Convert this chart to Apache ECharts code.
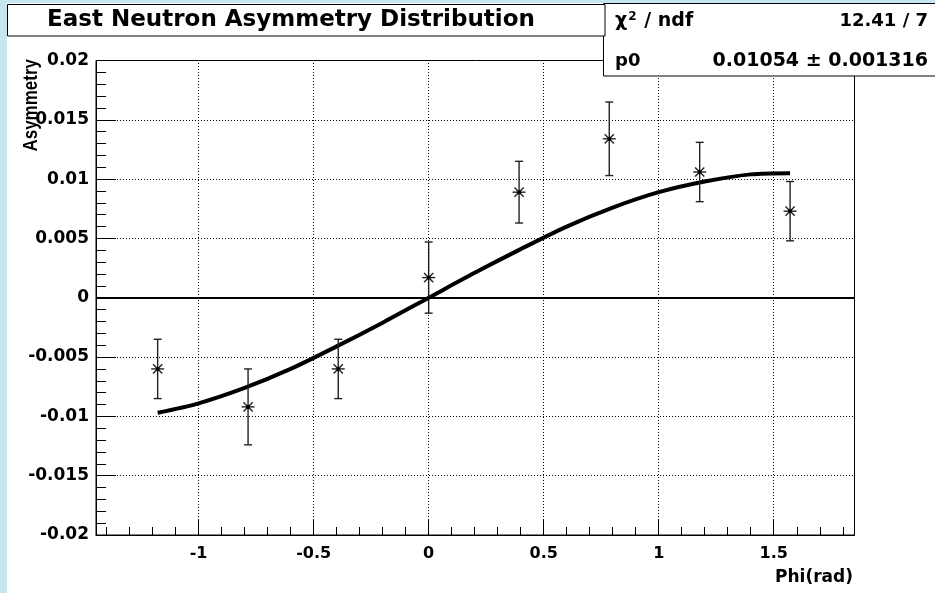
<!DOCTYPE html>
<html>
<head>
<meta charset="utf-8">
<script src="https://cdn.jsdelivr.net/npm/echarts@6/dist/echarts.min.js"></script>
<style>
  html, body { margin: 0; padding: 0; background: #c6e6ee; }
  #pad { position: absolute; left: 7px; top: 3px; width: 928px; height: 590px; background: #ffffff; }
  #chart { position: absolute; left: 0; top: 0; width: 935px; height: 593px; }
</style>
</head>
<body>
<div id="pad"></div>
<div id="chart"></div>
<script>
// Measured asymmetry per phi bin (bin centres at multiples of pi/8)
const phiPoints  = [-1.178, -0.785, -0.393, 0, 0.393, 0.785, 1.178, 1.571];
const asymValues = [-0.0060, -0.0092, -0.0060, 0.0017, 0.0089, 0.0134, 0.0106, 0.0073];
const asymErrors = [0.0025, 0.0032, 0.0025, 0.0030, 0.0026, 0.0031, 0.0025, 0.0025];

// Fitted curve p0*sin(phi), sampled along the drawn range
const fitPhi    = [-1.178, -1.0, -0.8, -0.6, -0.4, -0.2, 0, 0.2, 0.4, 0.6, 0.8, 1.0, 1.2, 1.4, 1.571];
const fitValues = [-0.0097, -0.0089, -0.0076, -0.0060, -0.0041, -0.0021, 0, 0.0021, 0.0041, 0.0060, 0.0076, 0.0089, 0.0098, 0.0104, 0.0105];

// Axis ticks
const xMajorTicks = [-1, -0.5, 0, 0.5, 1, 1.5];
const xMinorTicks = [-1.4, -1.3, -1.2, -1.1, -0.9, -0.8, -0.7, -0.6, -0.4, -0.3, -0.2, -0.1,
                     0.1, 0.2, 0.3, 0.4, 0.6, 0.7, 0.8, 0.9, 1.1, 1.2, 1.3, 1.4, 1.6, 1.7, 1.8];
const xRange = [-1.446, 1.851];
const yRange = [-0.02, 0.02];
const yStep = 0.005;

// Statistics box content
const statsRows = [
  ['{a|\u03c7}{s|2}{a| / ndf}', '12.41 / 7'],
  ['p0', '0.01054 \u00b1 0.001316']
];

const labelFont = 'DejaVu Sans';
const fmt = v => String(+(+v).toFixed(4));

const chart = echarts.init(document.getElementById('chart'), null, { renderer: 'canvas' });

const pointData = phiPoints.map((p, i) => [p, asymValues[i], asymErrors[i]]);
const fitData = fitPhi.map((p, i) => [p, fitValues[i]]);

const option = {
  backgroundColor: 'transparent',
  animation: false,
  grid: {
    left: 96, right: 80.5, top: 60.5, bottom: 58,
    show: true, borderColor: '#000', borderWidth: 1, backgroundColor: 'transparent',
    containLabel: false, outerBoundsMode: 'none'
  },
  xAxis: [
    {
      type: 'value', min: xRange[0], max: xRange[1], position: 'bottom',
      axisLine: { show: true, onZero: false, lineStyle: { color: '#000', width: 1 } },
      axisTick: { show: true, inside: true, length: 15, customValues: xMajorTicks, lineStyle: { color: '#000', width: 1 } },
      axisLabel: {
        show: true, customValues: xMajorTicks, margin: 11, formatter: fmt,
        color: '#000', fontFamily: labelFont, fontWeight: 'bold', fontSize: 16
      },
      splitLine: { show: false }
    },
    {
      type: 'value', min: xRange[0], max: xRange[1], position: 'bottom',
      axisLine: { show: false, onZero: false },
      axisTick: { show: true, inside: true, length: 8, customValues: xMinorTicks, lineStyle: { color: '#000', width: 1 } },
      axisLabel: { show: false },
      splitLine: { show: false }
    }
  ],
  yAxis: {
    type: 'value', min: yRange[0], max: yRange[1], interval: yStep,
    axisLine: { show: true, onZero: false, lineStyle: { color: '#000', width: 1 } },
    axisTick: { show: true, inside: true, length: 20, lineStyle: { color: '#000', width: 1 } },
    minorTick: { show: true, splitNumber: 5, length: 10, lineStyle: { color: '#000', width: 1 } },
    axisLabel: {
      margin: 7, formatter: fmt, color: '#000',
      fontFamily: labelFont, fontWeight: 'bold', fontSize: 17
    },
    splitLine: { show: true, lineStyle: { color: '#000', width: 1, type: [1, 2] } }
  },
  series: [
    {
      // vertical grid lines at the major phi ticks
      type: 'line', data: [], silent: true,
      markLine: {
        silent: true, symbol: 'none', label: { show: false },
        lineStyle: { color: '#000', width: 1, type: [1, 2] },
        data: xMajorTicks.map(v => ({ xAxis: v }))
      }
    },
    {
      // fit curve with the zero baseline
      type: 'line', data: fitData, smooth: 0.3, showSymbol: false, symbol: 'none',
      lineStyle: { color: '#000', width: 4 }, z: 3,
      markLine: {
        silent: true, symbol: 'none', label: { show: false },
        lineStyle: { color: '#000', width: 2, type: 'solid' },
        data: [{ yAxis: 0 }]
      }
    },
    {
      // data points: error bars and star markers
      type: 'custom', data: pointData, z: 4,
      renderItem(params, api) {
        const x = api.value(0), y = api.value(1), e = api.value(2);
        const c = api.coord([x, y]);
        const t = api.coord([x, y + e]);
        const b = api.coord([x, y - e]);
        const cap = 4, r = 6.5, d = r * 0.7071;
        const st = { stroke: '#222', lineWidth: 1.4 };
        const seg = (x1, y1, x2, y2) => ({ type: 'line', shape: { x1, y1, x2, y2 }, style: st });
        return {
          type: 'group',
          children: [
            seg(c[0], t[1], c[0], b[1]),
            seg(c[0] - cap, t[1], c[0] + cap, t[1]),
            seg(c[0] - cap, b[1], c[0] + cap, b[1]),
            seg(c[0] - r, c[1], c[0] + r, c[1]),
            seg(c[0] - d, c[1] - d, c[0] + d, c[1] + d),
            seg(c[0] - d, c[1] + d, c[0] + d, c[1] - d),
            { type: 'circle', shape: { cx: c[0], cy: c[1], r: 2 }, style: { fill: '#000' } }
          ]
        };
      }
    }
  ],
  graphic: [
    // statistics box
    { type: 'rect', shape: { x: 603.5, y: 3.5, width: 340, height: 72.5 },
      style: { fill: '#fff', stroke: '#000', lineWidth: 1 }, z: 10 },
    { type: 'text', x: 615, y: 21, z: 11,
      style: { text: statsRows[0][0], verticalAlign: 'middle',
        rich: {
          a: { fontFamily: labelFont, fontWeight: 'bold', fontSize: 19, fill: '#000' },
          s: { fontFamily: labelFont, fontWeight: 'bold', fontSize: 12, fill: '#000', verticalAlign: 'top', padding: [0, 1, 8, 1] }
        } } },
    { type: 'text', x: 928, y: 21, z: 11,
      style: { text: statsRows[0][1], align: 'right', verticalAlign: 'middle',
        font: 'bold 18px "DejaVu Sans"', fill: '#000' } },
    { type: 'text', x: 615, y: 61, z: 11,
      style: { text: statsRows[1][0], verticalAlign: 'middle',
        font: 'bold 18px "DejaVu Sans"', fill: '#000' } },
    { type: 'text', x: 928, y: 61, z: 11,
      style: { text: statsRows[1][1], align: 'right', verticalAlign: 'middle',
        font: 'bold 19px "DejaVu Sans"', fill: '#000' } },
    // title box
    { type: 'rect', shape: { x: 7.5, y: 4.5, width: 597.5, height: 31.5 },
      style: { fill: '#fff', stroke: '#000', lineWidth: 1 }, z: 12 },
    { type: 'text', x: 291, y: 20.5, z: 13,
      style: { text: 'East Neutron Asymmetry Distribution', align: 'center', verticalAlign: 'middle',
        font: 'bold 23px "DejaVu Sans"', fill: '#000' } },
    // axis titles
    { type: 'text', x: 31, y: 59, rotation: Math.PI / 2, scaleY: 1.2, z: 13,
      style: { text: 'Asymmetry', align: 'right', verticalAlign: 'middle',
        font: 'bold 17px "Liberation Sans"', fill: '#000' } },
    { type: 'text', x: 853, y: 578, z: 13,
      style: { text: 'Phi(rad)', align: 'right', verticalAlign: 'middle',
        font: 'bold 17px "DejaVu Sans"', fill: '#000' } }
  ]
};

chart.setOption(option);
</script>
</body>
</html>
